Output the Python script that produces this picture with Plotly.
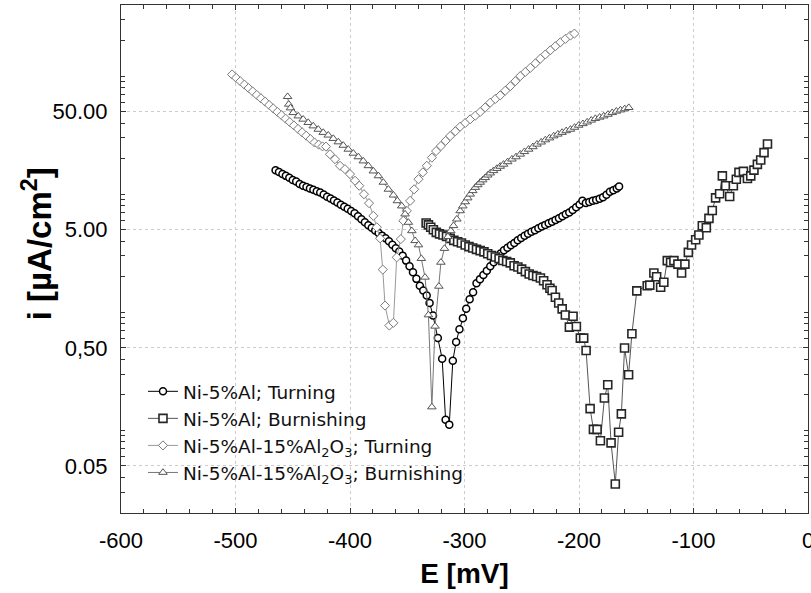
import plotly.graph_objects as go

# ---- data (E in mV, i in uA/cm2) ----
e_ni_turn = [-465, -462, -459, -456, -453, -450, -447, -444, -441, -438, -435, -432, -429, -426,
             -423, -420, -417, -414, -411, -408, -405, -402, -399, -396, -393, -390, -387, -384,
             -381, -378, -375, -372, -369, -366, -363, -360, -357, -354, -351, -348, -345, -342,
             -339, -336, -333, -330.5, -327.5, -323.3, -319.5, -316.5, -313.3, -310.2, -307.3,
             -304.4, -301.4, -298.5, -295.5, -292.5, -289.5, -286.5, -283.5, -280.5, -277.5,
             -274.5, -271.5, -268.5, -265.5, -262.5, -259.5, -256.5, -253.5, -250.5, -247.5,
             -244.5, -241.5, -238.5, -235.5, -232.5, -229.5, -226.5, -223.5, -220.5, -217.5,
             -214.5, -211.5, -208.5, -205.5, -202.5, -199.5, -197, -194, -191, -188, -185, -182,
             -179, -176, -173, -170, -167, -165]
i_ni_turn = [15.96, 15.4, 14.8, 14.3, 13.8, 13.2, 12.8, 12.2, 11.8, 11.5, 11.2, 10.9, 10.6, 10.35,
             9.95, 9.53, 9.2, 8.83, 8.49, 8.15, 7.82, 7.52, 7.21, 6.89, 6.5, 6.14, 5.79, 5.47,
             5.19, 4.93, 4.69, 4.46, 4.24, 3.99, 3.73, 3.49, 3.27, 3.02, 2.74, 2.45, 2.18, 1.92,
             1.68, 1.53, 1.39, 1.20, 0.94, 0.605, 0.405, 0.123, 0.112, 0.389, 0.562,
             0.719, 0.893, 1.07, 1.29, 1.48, 1.76, 1.91, 2.07, 2.25, 2.45,
             2.66, 2.93, 3.15, 3.36, 3.52, 3.69, 3.87, 4.07, 4.26, 4.44,
             4.62, 4.81, 4.95, 5.14, 5.32, 5.5, 5.68, 5.86, 6.05, 6.27,
             6.5, 6.76, 7.0, 7.35, 7.76, 8.18, 8.81, 8.41, 8.61, 8.81, 8.95, 9.16,
             9.44, 9.89, 10.5, 10.8, 11.2, 11.6]

e_ni_burn = [-333.5, -331.5, -329.5, -327.2, -324.6, -321.8, -318.8, -315.7, -312.5, -309.3, -306,
             -302.7, -299.4, -296.1, -292.8, -289.5, -286.3, -283, -279.7, -276.4, -273.1, -269.8,
             -266.5, -263.2, -260, -256.7, -253.4, -250.1, -246.8, -243.5, -240.2, -237, -233.7,
             -230.9, -227.9, -225.4, -223.5, -220.6, -217.7, -214.7, -211.9, -208.4, -205.2,
             -202.3, -198.8, -195.9, -193.8, -190.3, -187.4, -184.2, -181.3, -177.8, -174.9,
             -172, -168.3, -165.4, -163, -160.2, -156.7, -153.8, -149.5, -140.4, -138.2, -134.6,
             -132.2, -128.7, -125.9, -122.9, -120, -117.1, -113.6, -110.4, -107.5, -104.5,
             -101.7, -98.1, -95.3, -92.3, -88.8, -86.5, -83.6, -80.7, -77.2, -74.8, -71.9,
             -68.4, -65.2, -62.6, -60.3, -56.4, -52.9, -50, -47.2, -44.2, -41.3, -38.4, -35.4]
i_ni_burn = [5.70, 5.50, 5.25, 5.00, 4.75, 4.62, 4.52, 4.40, 4.23, 4.07, 3.96,
             3.86, 3.72, 3.60, 3.50, 3.41, 3.33, 3.25, 3.13, 3.03, 2.94, 2.85,
             2.75, 2.69, 2.62, 2.48, 2.42, 2.32, 2.21, 2.11, 2.05, 2.01, 1.95,
             1.85, 1.71, 1.60, 1.53, 1.34, 1.20, 1.07, 0.95, 0.75, 0.927,
             0.759, 0.605, 0.605, 0.475, 0.153, 0.102, 0.102, 0.0817, 0.188, 0.244,
             0.0785, 0.0352, 0.0966, 0.138, 0.499, 0.296, 0.658, 1.52, 1.68, 1.70, 2.15,
             2.00, 1.63, 1.80, 2.74, 2.65, 2.74, 2.56, 2.15, 2.56, 3.22,
             3.72, 4.12, 4.51, 5.41, 5.20, 6.24, 7.29, 9.31, 10.1, 14.3, 11.8,
             9.57, 11.8, 13.4, 15.3, 15.6, 13.6, 14.3, 16.0, 17.9, 19.5, 22.5, 26.6]

e_al2o3_turn = [-503, -499.4, -495.8, -492.2, -488.6, -485, -481.4, -477.8, -474.2, -470.6, -467,
                -463.4, -459.8, -456.2, -452.6, -449, -445.4, -441.8, -438.2, -434.6, -431,
                -427.4, -424, -421, -417.5, -413.1, -408.7, -404.4, -400, -395.6, -391.9, -387.8,
                -383.4, -379.6, -376.6, -373.7, -371.4, -369.4, -365.6, -362.1, -359.2, -355.6,
                -353.4, -350.4, -347.5, -344, -340.2, -336.4, -332.9, -328.5, -324.8, -320.6,
                -316.5, -312.5, -308, -303.8, -299.4, -295, -290.6, -286.3, -281.9, -277.5,
                -273.1, -268.8, -264.4, -260, -255.6, -251.3, -246.9, -242.5, -238.1, -233.8,
                -229.4, -225, -220.6, -216.2, -211.9, -207.5, -204]
i_al2o3_turn = [103.3, 96.6, 90.4, 84.7, 79.2, 74.1, 69.3, 64.9, 60.8, 56.9, 53.2,
                49.8, 46.6, 43.6, 40.8, 38.2, 35.7, 33.4, 31.3, 29.3, 27.4,
                26.3, 25.4, 25.3, 21.8, 19.8, 17.4, 16.3, 14.8, 13.0, 11.8, 10.0,
                8.4, 6.56, 5.25, 4.23, 2.30, 1.14, 0.773, 0.815, 2.92, 4.17,
                5.96, 7.23, 8.79, 11.0, 13.4, 15.3, 17.4, 20.4, 23.2, 25.6,
                28.3, 31.1, 34.1, 37.3, 40.1, 43.1, 46.2, 49.7, 54.3, 59.6,
                64.0, 68.7, 75.2, 82.2, 90.6, 100, 108.4, 117.5, 128.2, 140.3,
                152.4, 165.6, 179.1, 193.6, 206.5, 220.3, 229.1]

e_al2o3_burn = [-454.5, -453.5, -452, -449.6, -445.2, -440.9, -436.5, -432.1, -427.7, -423.4, -419,
                -414.6, -410.2, -405.9, -401.5, -397.1, -392.7, -388.4, -384, -379.6, -375.2,
                -370.9, -366.5, -362.1, -358.6, -354.8, -351.9, -349, -346, -343.1, -340.2,
                -337.7, -334.5, -331.5, -328.5, -325.7, -322.4, -320.6, -317.5, -314.5, -312,
                -309.6, -306.7, -303.8, -301.5, -299.4, -297.2, -295, -292.8, -290.6, -288.4,
                -286.3, -284.1, -281.9, -279.7, -277.5, -274.6, -271.7, -268.8, -265.9, -262.3,
                -258.6, -255, -251.3, -247.7, -244, -240.3, -236.7, -233, -229.4, -225.8, -222.1,
                -218.5, -214.8, -211.2, -207.5, -203.9, -200.3, -196.6, -192.9, -189.3, -185.7,
                -182, -178.4, -174.7, -171, -167.4, -163.8, -160.1, -156.5]
i_al2o3_burn = [67.0, 57.7, 53.7, 49.0, 45.9, 43.1, 40.4, 37.8, 35.4, 33.3, 31.6,
                29.6, 27.7, 25.9, 24.0, 22.2, 20.7, 19.1, 17.4, 15.7, 14.3,
                12.6, 11.0, 9.82, 8.79, 7.94, 6.79, 5.77, 4.9, 4.04, 3.72,
                2.85, 1.98, 0.95, 0.158, 0.762, 1.66, 2.65, 3.47, 4.37, 4.9,
                5.41, 6.15, 7.23, 7.94, 8.61, 9.29, 10.0, 10.7, 11.4, 12.0,
                12.6, 13.2, 13.8, 14.5, 15.1, 15.8, 16.5, 17.2, 17.9, 18.8,
                19.8, 20.7, 21.8, 22.9, 24.0, 25.2, 26.5, 27.6, 28.8, 29.9, 31.1,
                32.2, 33.3, 34.4, 35.4, 36.8, 38.3, 39.5, 40.8, 42.3, 43.7,
                44.8, 45.9, 47.4, 49.0, 50.4, 51.6, 52.8, 54.1]

names = ["Ni-5%Al; Turning", "Ni-5%Al; Burnishing",
         "Ni-5%Al-15%Al<sub>2</sub>O<sub>3</sub>; Turning",
         "Ni-5%Al-15%Al<sub>2</sub>O<sub>3</sub>; Burnishing"]

y_tickvals = [0.05, 0.5, 5, 50]
y_ticktext = ["0.05", "0,50", "5.00", "50.00"]
x_tickvals = [-600, -500, -400, -300, -200, -100, 0]
x_ticktext = ["-600", "-500", "-400", "-300", "-200", "-100", "0"]

y_minor = [m * 10.0 ** k for k in range(-2, 3) for m in range(1, 10)
           if 0.02 <= m * 10.0 ** k <= 400 and m != 5]

FONT = "Arial, Liberation Sans, sans-serif"
LEGEND_FONT = "DejaVu Sans, Arial, sans-serif"

fig = go.Figure()
styles = [
    dict(sym="circle", size=7, mcol="#000000", mlw=1.5, lcol="#000000"),
    dict(sym="square", size=8, mcol="#262626", mlw=1.6, lcol="#555555"),
    dict(sym="diamond", size=7, mcol="#777777", mlw=1.0, lcol="#999999"),
    dict(sym="triangle-up", size=7.5, mcol="#555555", mlw=1.0, lcol="#777777"),
]
series = [(e_ni_turn, i_ni_turn), (e_ni_burn, i_ni_burn),
          (e_al2o3_turn, i_al2o3_turn), (e_al2o3_burn, i_al2o3_burn)]
for (ex, iy), nm, st in zip(series, names, styles):
    fig.add_trace(go.Scatter(
        x=ex, y=iy, name=nm, mode="lines+markers",
        line=dict(color=st["lcol"], width=1),
        marker=dict(symbol=st["sym"], size=st["size"], color="white",
                    line=dict(color=st["mcol"], width=st["mlw"])),
    ))

fig.update_layout(
    width=811, height=593,
    margin=dict(l=121, r=3, t=5, b=80),
    paper_bgcolor="white", plot_bgcolor="white",
    font=dict(family=FONT, color="#000000"),
    showlegend=True,
    legend=dict(x=0.032, y=0.276, xanchor="left", yanchor="top",
                bgcolor="rgba(0,0,0,0)", font=dict(size=18.5, family=LEGEND_FONT, color="#111111"),
                tracegroupgap=0, itemwidth=30),
    annotations=[dict(
        text="<b>i [µA/cm<sup>2</sup>]</b>", textangle=-90,
        xref="paper", yref="paper", x=-0.123, y=0.53,
        xanchor="center", yanchor="middle", showarrow=False,
        font=dict(size=33, family=FONT, color="#000000"),
    )],
)
fig.update_xaxes(
    range=[-600, 0], tickmode="array", tickvals=x_tickvals, ticktext=x_ticktext,
    automargin=False, ticklabeloverflow="allow",
    showgrid=True, gridcolor="#cccccc", griddash="dot", gridwidth=1,
    zeroline=False, showline=True, linecolor="#333333", linewidth=1, mirror="allticks",
    ticks="inside", ticklen=5, tickcolor="#333333",
    minor=dict(dtick=20, ticks="inside", ticklen=4, tickcolor="#333333", showgrid=False),
    tickfont=dict(size=22, family=FONT), ticklabelstandoff=8,
    title=dict(text="<b>E [mV]</b>", font=dict(size=28, family=FONT), standoff=10),
)
fig.update_yaxes(
    type="log", range=[-1.699, 2.602], tickmode="array", tickvals=y_tickvals, ticktext=y_ticktext,
    automargin=False,
    showgrid=True, gridcolor="#cccccc", griddash="dot", gridwidth=1,
    zeroline=False, showline=True, linecolor="#333333", linewidth=1, mirror="allticks",
    ticks="inside", ticklen=5, tickcolor="#333333",
    minor=dict(tickmode="array", tickvals=y_minor, ticks="inside", ticklen=4,
               tickcolor="#333333", showgrid=False),
    tickfont=dict(size=22, family=FONT), ticklabelstandoff=8,
)

fig.write_html("out.html", config={"displayModeBar": False},
               post_script="document.body.style.margin='0';")
